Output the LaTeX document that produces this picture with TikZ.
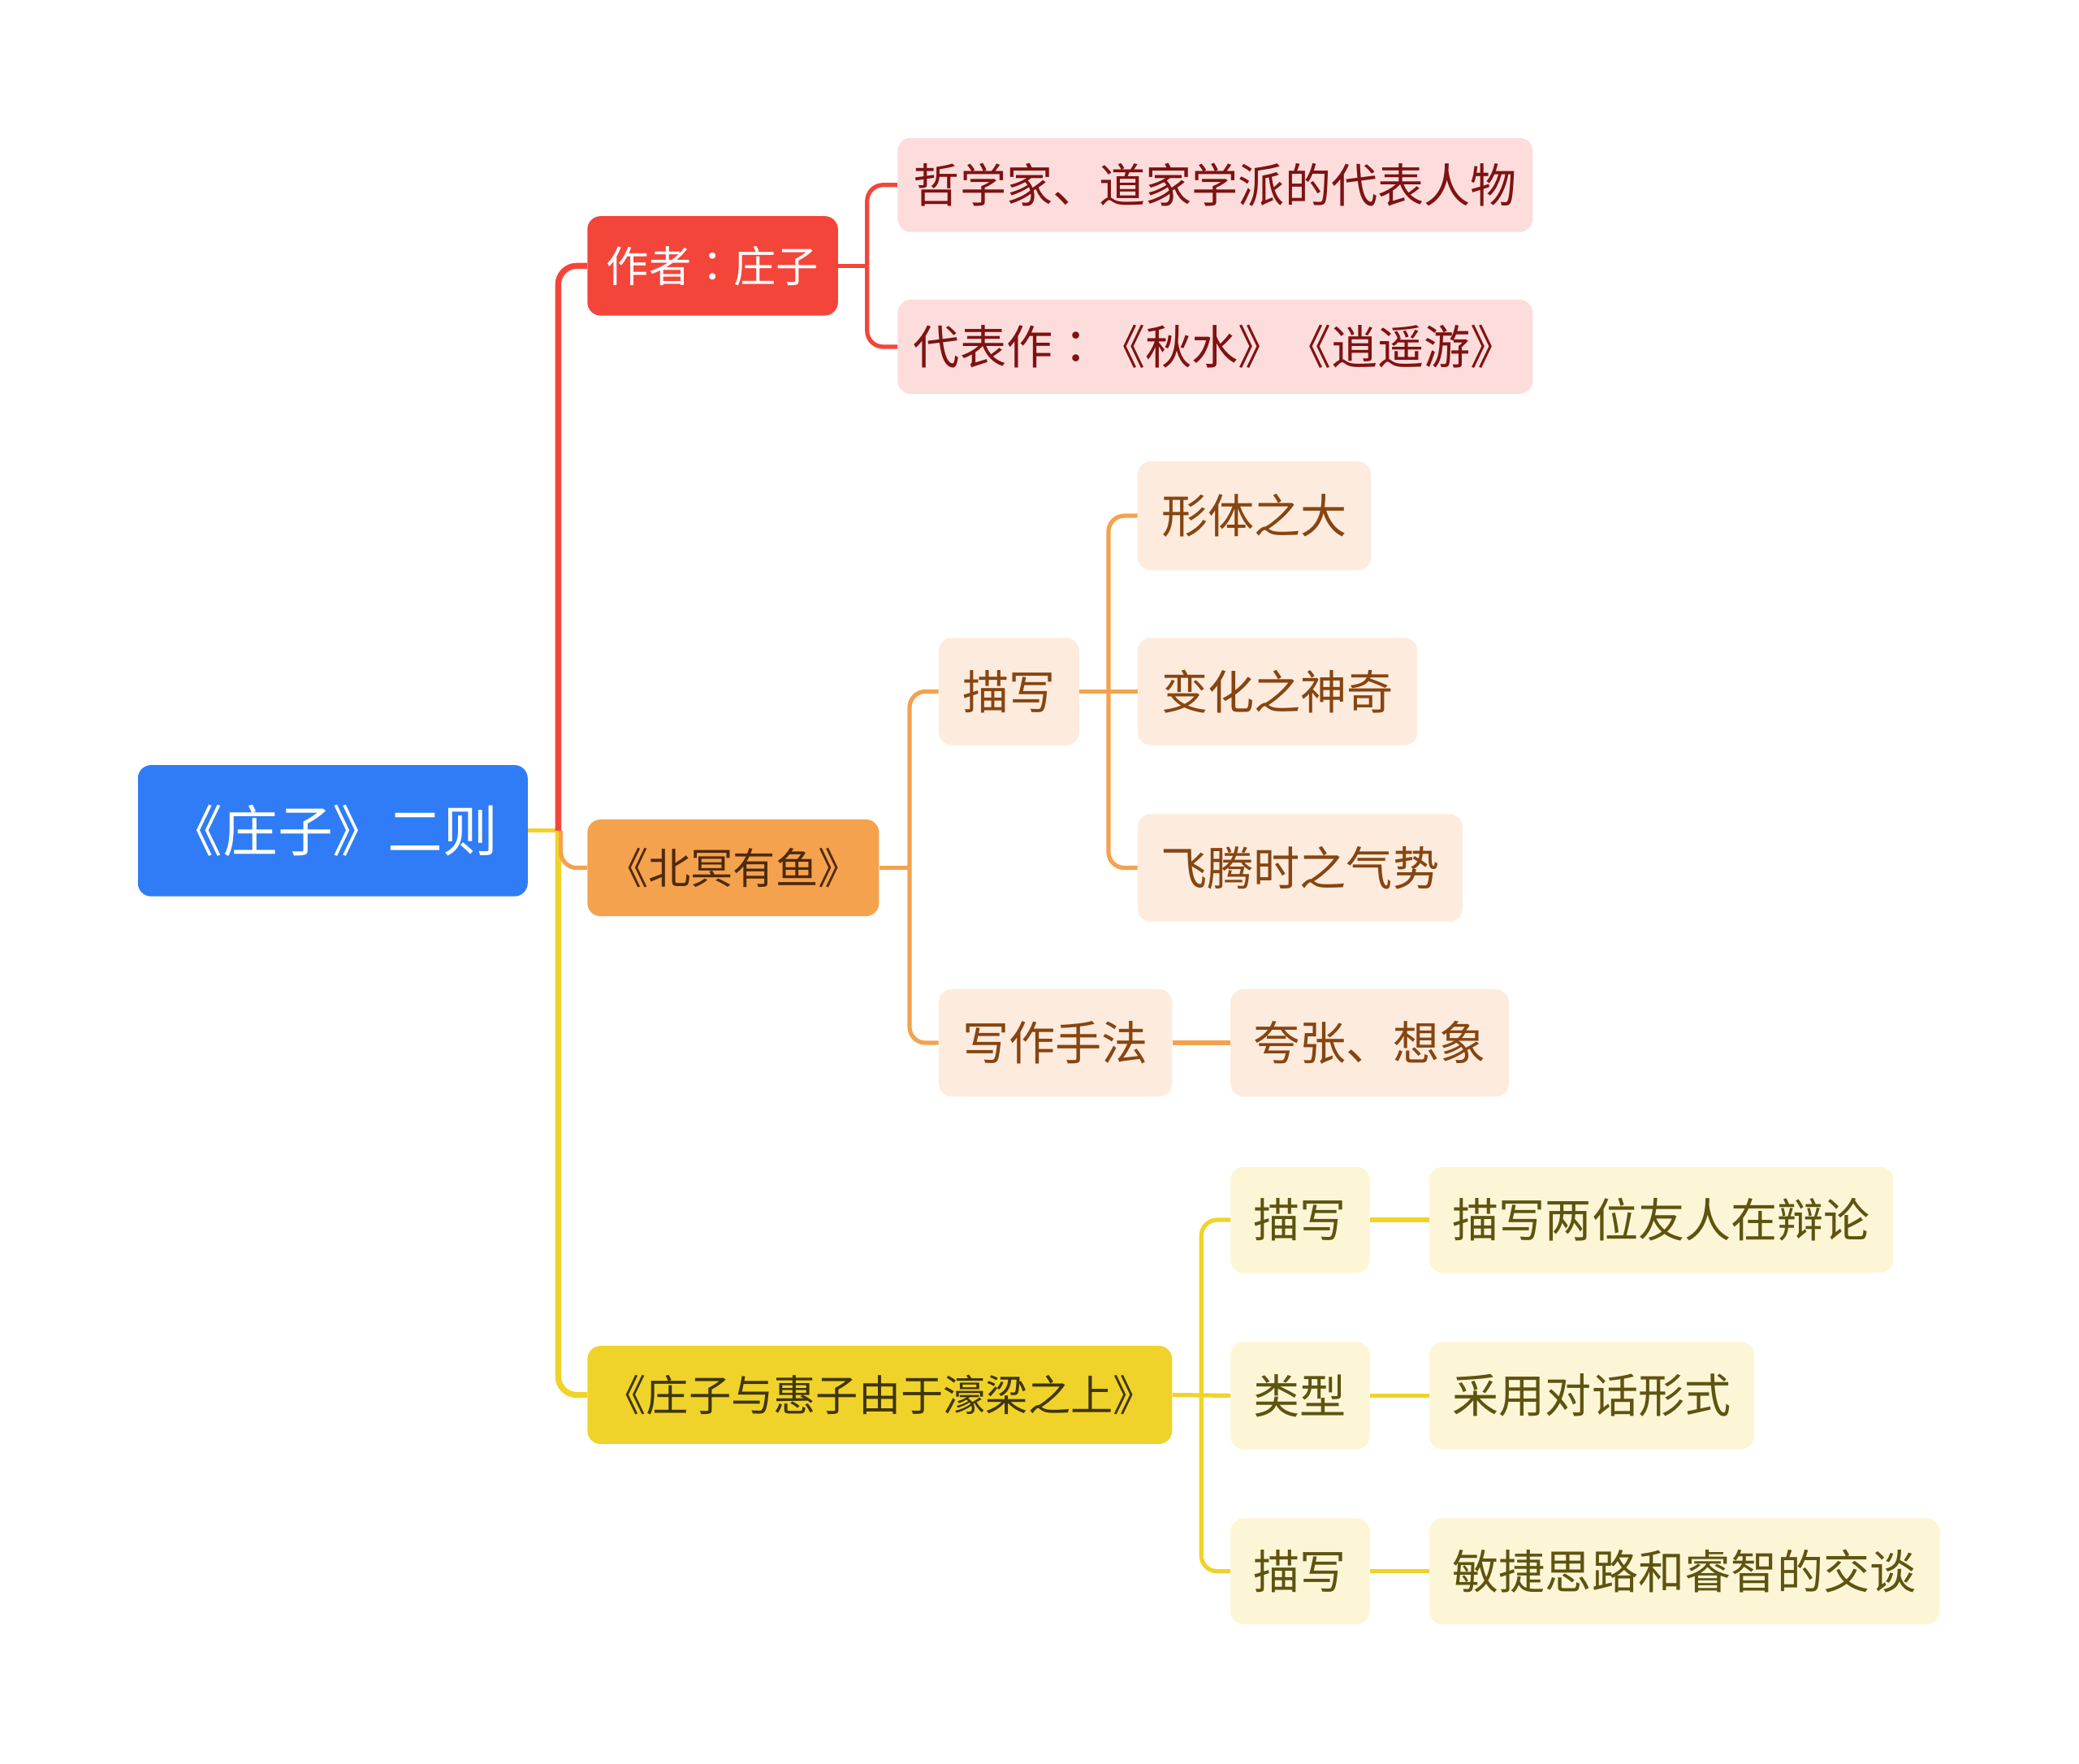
\documentclass[tikz,border=0pt]{standalone}
\usepackage{fontspec}
\newfontfamily\cjk{Noto Sans CJK SC}
\newfontfamily\cjktc{Noto Sans CJK TC}
\newcommand{\ccolon}{{\cjktc ：}}
\definecolor{rootblue}{HTML}{2F7CF6}
\definecolor{cred}{HTML}{F4453B}
\definecolor{cpink}{HTML}{FDDCDC}
\definecolor{tred}{HTML}{7E1212}
\definecolor{corange}{HTML}{F4A24E}
\definecolor{cpeach}{HTML}{FDEBDD}
\definecolor{tbrown}{HTML}{864511}
\definecolor{tdbrown}{HTML}{4E2A0C}
\definecolor{cyellow}{HTML}{F0D32A}
\definecolor{ccream}{HTML}{FDF6D6}
\definecolor{tolive}{HTML}{5E5410}
\definecolor{tdolive}{HTML}{3F3606}
\begin{document}
\begin{tikzpicture}[x=1pt,y=-1pt,
  box/.style={rectangle, rounded corners=10pt, inner sep=0pt, align=center},
  fsroot/.style={font=\cjk\fontsize{41.5}{46}\selectfont},
  fsone/.style={font=\cjk\fontsize{32}{36}\selectfont},
  fstwo/.style={font=\cjk\fontsize{35}{40}\selectfont},
  rootbox/.style={box, fill=rootblue, text=white, fsroot},
  redbox/.style={box, fill=cred, text=white, fsone},
  pinkbox/.style={box, fill=cpink, text=tred, fstwo},
  orangebox/.style={box, fill=corange, text=tdbrown, fsone},
  peachbox/.style={box, fill=cpeach, text=tbrown, fstwo},
  yellowbox/.style={box, fill=cyellow, text=tdolive, fsone},
  creambox/.style={box, fill=ccream, text=tolive, fstwo},
  trunk/.style={line width=4.5pt, rounded corners=14pt},
  link/.style={line width=3.2pt, rounded corners=12pt}
]
\useasboundingbox (0,0) rectangle (1568,1330);

% nodes
\node[rootbox, minimum width=294pt, minimum height=99pt] (root) at (251,626.5) {《庄子》二则};

\node[redbox, minimum width=189pt, minimum height=75pt] (author) at (537.5,200.5) {作者\ccolon 庄子};
\node[pinkbox, minimum width=479pt, minimum height=71pt] (phil) at (916.5,139.5) {哲学家、道家学派的代表人物};
\node[pinkbox, minimum width=479pt, minimum height=71pt] (works) at (916.5,261.5) {代表作\ccolon《秋水》《逍遥游》};

\node[orangebox, minimum width=220pt, minimum height=73pt] (bei) at (553,654.5) {《北冥有鱼》};
\node[peachbox, minimum width=106pt, minimum height=81pt] (miao1) at (761,521.5) {描写};
\node[peachbox, minimum width=176pt, minimum height=82pt] (xing) at (946,389) {形体之大};
\node[peachbox, minimum width=211pt, minimum height=81pt] (bian) at (963.5,521.5) {变化之神奇};
\node[peachbox, minimum width=245pt, minimum height=81pt] (fei) at (980.5,654.5) {飞腾时之气势};
\node[peachbox, minimum width=176pt, minimum height=81pt] (xie) at (796,786.5) {写作手法};
\node[peachbox, minimum width=210pt, minimum height=81pt] (kua) at (1033,786.5) {夸张、想象};

\node[yellowbox, minimum width=441pt, minimum height=74pt] (hao) at (663.5,1052) {《庄子与惠子由于濠梁之上》};
\node[creambox, minimum width=105pt, minimum height=80pt] (miao2) at (980.5,920) {描写};
\node[creambox, minimum width=350pt, minimum height=80pt] (bian2) at (1253,920) {描写两位友人在辩论};
\node[creambox, minimum width=105pt, minimum height=81pt] (lei) at (980.5,1052.5) {类型};
\node[creambox, minimum width=245pt, minimum height=81pt] (cai) at (1200.5,1052.5) {采用对话形式};
\node[creambox, minimum width=105pt, minimum height=80pt] (miao3) at (980.5,1185) {描写};
\node[creambox, minimum width=385pt, minimum height=80pt] (min) at (1270.5,1185) {敏捷思路和睿智的交谈};

% trunk from root
\coordinate (tj) at (421,626.5);
\draw[cyellow, line width=3.2pt] (root.east) -- (tj);
\draw[cred, trunk] (tj) |- (author.west);
\draw[cyellow, trunk] (tj) |- (hao.west);
\draw[corange, link] ([xshift=2pt]tj) |- (bei.west);

% red subtree
\coordinate (rj) at (654,200.5);
\draw[cred, link] (author.east) -- (rj);
\draw[cred, link] (rj) |- (phil.west);
\draw[cred, link] (rj) |- (works.west);

% orange subtree
\coordinate (oj) at (686,654.5);
\draw[corange, link] (bei.east) -- (oj);
\draw[corange, link] (oj) |- (miao1.west);
\draw[corange, link] (oj) |- (xie.west);
\coordinate (mj) at (836,521.5);
\draw[corange, link] (miao1.east) -- (bian.west);
\draw[corange, link] (mj) |- (xing.west);
\draw[corange, link] (mj) |- (fei.west);
\draw[corange, link] (xie.east) -- (kua.west);

% yellow subtree
\coordinate (yj) at (906,1052.5);
\draw[cyellow, link] (hao.east) -- (lei.west);
\draw[cyellow, link] (yj) |- (miao2.west);
\draw[cyellow, link] (yj) |- (miao3.west);
\draw[cyellow, link] (miao2.east) -- (bian2.west);
\draw[cyellow, link] (lei.east) -- (cai.west);
\draw[cyellow, link] (miao3.east) -- (min.west);
\end{tikzpicture}
\end{document}
